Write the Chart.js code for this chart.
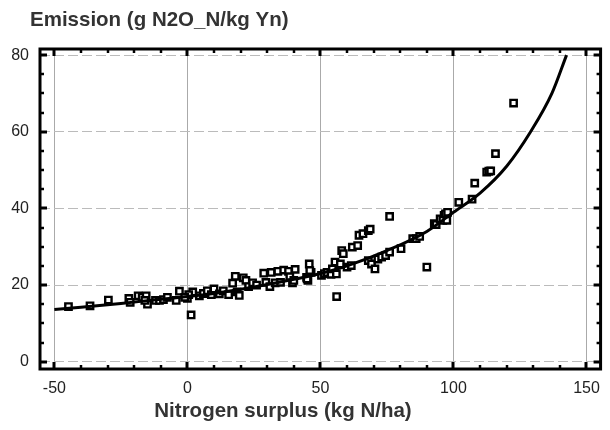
<!DOCTYPE html>
<html>
<head>
<meta charset="utf-8">
<script src="https://cdn.jsdelivr.net/npm/chart.js@4/dist/chart.umd.min.js"></script>
<style>
html,body{margin:0;padding:0;background:#fff;}
#wrap{width:610px;height:430px;}
</style>
</head>
<body>
<div id="wrap"><canvas id="c" width="610" height="430"></canvas></div>
<script>
const chartTitle = 'Emission (g N2O_N/kg Yn)';
const xTitle = 'Nitrogen surplus (kg N/ha)';
const xTickValues = [-50, 0, 50, 100, 150];
const yTickValues = [0, 20, 40, 60, 80];
const xMinorTicks = [-50,-40,-30,-20,-10,0,10,20,30,40,50,60,70,80,90,100,110,120,130,140,150];
const yMinorTicks = [0,5,10,15,20,25,30,35,40,45,50,55,60,65,70,75,80];

const pointsX = [-44.7,-36.6,-29.7,-22,-21.5,-18.5,-17,-15.5,-15,-16,-12,-10.5,-9,-7.5,-4.2,-3,0,1.4,2,0.5,-1,
  4.5,6,7.5,9,10,12,13.5,15.5,17,18,18.7,19.5,21,22,23,24.5,26,28.7,29.5,31,31.5,33,34,35,36.2,38,38.5,39.5,40.5,40,
  44.8,45.3,45.8,46.5,46,45,50.4,51.5,52.5,54,54.5,55.5,56,56.1,57.5,58,58.6,60,61.6,62,64,64.5,66,68,68.7,68,69.2,70.5,
  71.6,73,74.5,76,76,80.3,84.7,86,87.3,90,92.8,93.5,95,96.5,97,97.8,96,97.5,102,107,108,112.5,113.3,114,115.8,122.6];
const pointsY = [14.4,14.6,16.1,16.5,15.5,17.2,16.8,17.2,15,16,16,16,16.2,16.8,16,18.4,16.5,12.2,18.2,17.5,16.8,
  17.2,17.8,18.5,17.5,19,17.7,18.5,17.5,20.5,22.3,18.2,17.3,21.9,21.2,19.6,20.6,20,23.1,20.7,19.6,23.3,20.6,23.6,20.7,23.9,23.6,22.2,20.6,24.1,21.2,
  22,21.2,25.5,23.3,23.8,21.6,22.5,23,23.3,22.8,24.2,26,22.9,17,25.5,29,28.2,24.7,25.1,29.9,30.3,33,33.4,34.2,34.6,26.4,25.5,24.2,
  26.8,27.3,27.7,28.6,37.9,29.5,32.1,32.1,32.7,24.7,36,35.8,37.3,38.2,38.6,39,36.9,36.9,41.6,42.4,46.6,49.5,49.7,49.8,54.3,67.5];

const curveX = [-50,-40,-25,-10,0,10,25,40,50,60,75,90,100,110,120,129,137,142.5];
const curveY = [13.6,14.2,15.2,16.3,17,17.8,19.5,21.5,23,25,29,34,39,44,51,60,70,80];

const scatterData = pointsX.map((v,i)=>({x:v,y:pointsY[i]}));
const curveData = curveX.map((v,i)=>({x:v,y:curveY[i]}));

const FONT = '"Liberation Sans", Arial, sans-serif';

const framePlugin = {
  id:'frame',
  afterDatasetsDraw(chart){
    const {ctx, chartArea:a, scales:{x,y}} = chart;
    ctx.save();
    ctx.strokeStyle = '#000';
    ctx.lineCap = 'butt';
    const seg = (x1,y1,x2,y2,w)=>{ctx.lineWidth=w;ctx.beginPath();ctx.moveTo(x1,y1);ctx.lineTo(x2,y2);ctx.stroke();};
    xMinorTicks.forEach(v=>{
      const px = Math.round(x.getPixelForValue(v));
      const major = xTickValues.includes(v);
      const L = major?7:4, w = major?3:2.5;
      seg(px,a.bottom,px,a.bottom-L,w);
      seg(px,a.top,px,a.top+L,w);
    });
    yMinorTicks.forEach(v=>{
      const py = Math.round(y.getPixelForValue(v));
      const major = yTickValues.includes(v);
      const L = major?7:4, w = major?3:2.5;
      seg(a.left,py,a.left+L,py,w);
      seg(a.right,py,a.right-L,py,w);
    });
    ctx.lineWidth = 3;
    ctx.strokeRect(a.left,a.top,a.right-a.left,a.bottom-a.top);
    ctx.restore();
  },
  afterDraw(chart){
    const ctx = chart.ctx;
    ctx.save();
    ctx.font = 'bold 20.5px ' + FONT;
    ctx.fillStyle = '#333';
    ctx.textBaseline = 'middle';
    ctx.textAlign = 'left';
    ctx.fillText(chartTitle, 30, 20);
    ctx.textAlign = 'center';
    ctx.fillText(xTitle, 283, 411);
    ctx.restore();
  }
};

new Chart(document.getElementById('c'), {
  type:'scatter',
  data:{
    datasets:[
      {type:'line', data:curveData, borderColor:'#000', borderWidth:3, pointRadius:0, fill:false,
       cubicInterpolationMode:'monotone', order:0},
      {type:'scatter', data:scatterData, pointStyle:'rect', pointRadius:4.5, borderColor:'#000', borderWidth:2.4,
       backgroundColor:'#fff', order:1}
    ]
  },
  options:{
    responsive:false,
    animation:false,
    events:[],
    layout:{padding:{left:0,top:49,right:6,bottom:0}},
    plugins:{legend:{display:false}, tooltip:{enabled:false}, title:{display:false}},
    scales:{
      x:{
        type:'linear', min:-55.4, max:155.3,
        afterBuildTicks(s){ s.ticks = xTickValues.map(v=>({value:v})); },
        afterFit(s){ s.height = 61; },
        grid:{color:'#aaa', lineWidth:1, drawTicks:false},
        border:{display:false},
        ticks:{padding:10, color:'#222', font:{family:FONT, size:16}, maxRotation:0, autoSkip:false}
      },
      y:{
        type:'linear', min:-1.9, max:81.6,
        afterBuildTicks(s){ s.ticks = yTickValues.map(v=>({value:v})); },
        afterFit(s){ s.width = 40; },
        grid:{color:'#bbb', lineWidth:1, drawTicks:false},
        border:{display:false, dash:[10,4]},
        ticks:{padding:11, color:'#222', font:{family:FONT, size:16}, autoSkip:false}
      }
    }
  },
  plugins:[framePlugin]
});
</script>
</body>
</html>
